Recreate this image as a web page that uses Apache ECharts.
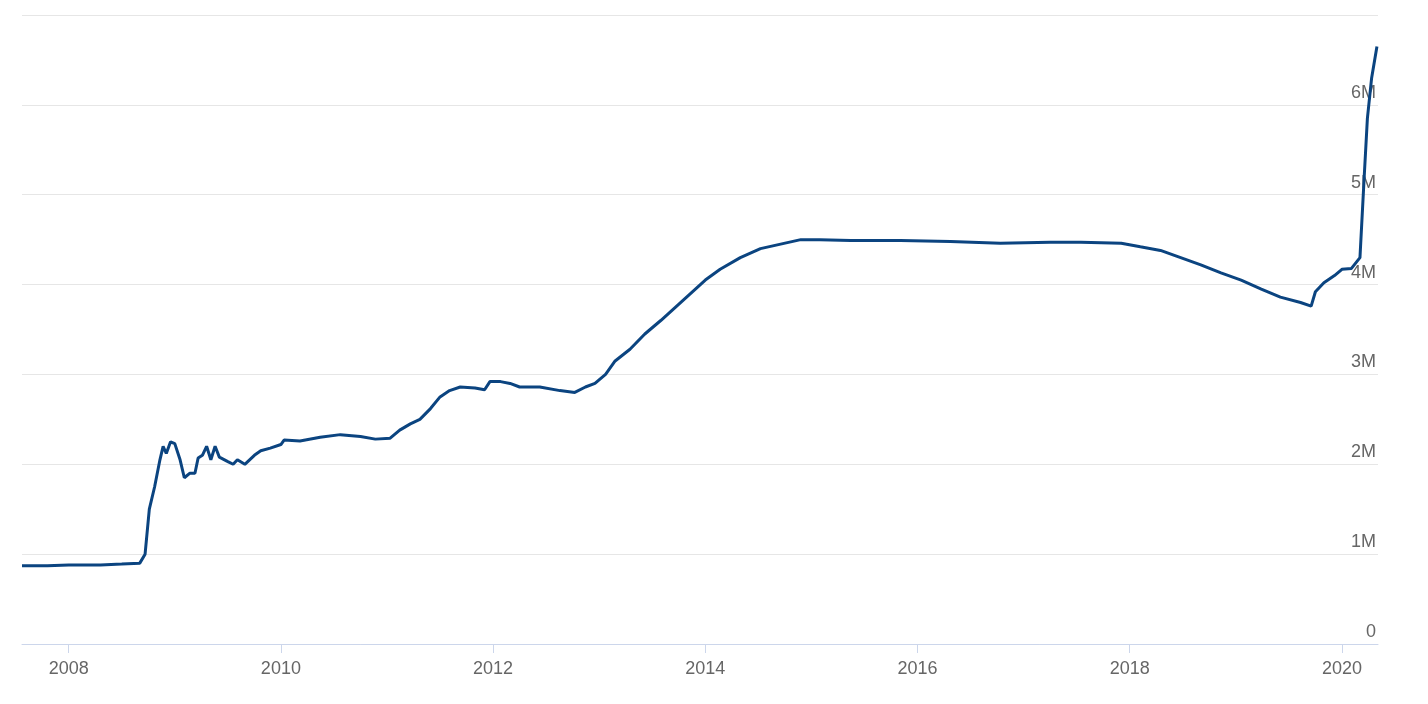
<!DOCTYPE html>
<html><head><meta charset="utf-8">
<script src="https://cdn.jsdelivr.net/npm/echarts@6/dist/echarts.min.js"></script>
<style>html,body{margin:0;padding:0;background:#fff}#c{width:1428px;height:704px}</style>
</head><body><div id="c"></div>
<script>
const years = [2007.56,2007.8,2008.0,2008.3,2008.5,2008.67,2008.72,2008.76,2008.81,2008.86,2008.89,2008.92,2008.96,2009.0,2009.05,2009.09,2009.14,2009.19,2009.22,2009.26,2009.30,2009.34,2009.38,2009.42,2009.5,2009.55,2009.59,2009.66,2009.75,2009.81,2009.9,2010.0,2010.03,2010.18,2010.37,2010.56,2010.75,2010.89,2011.03,2011.12,2011.22,2011.31,2011.41,2011.5,2011.59,2011.69,2011.83,2011.92,2011.97,2012.07,2012.16,2012.25,2012.44,2012.63,2012.77,2012.87,2012.96,2013.06,2013.15,2013.29,2013.43,2013.58,2013.72,2013.86,2014.0,2014.14,2014.33,2014.52,2014.71,2014.9,2015.08,2015.37,2015.84,2016.31,2016.78,2017.25,2017.54,2017.92,2018.1,2018.29,2018.48,2018.67,2018.86,2019.05,2019.24,2019.42,2019.61,2019.71,2019.75,2019.83,2019.93,2020.0,2020.09,2020.17,2020.21,2020.24,2020.28,2020.33];
const values = [0.87,0.87,0.88,0.88,0.89,0.9,1.0,1.5,1.75,2.05,2.2,2.12,2.25,2.23,2.05,1.85,1.9,1.9,2.07,2.1,2.2,2.05,2.2,2.08,2.03,2.0,2.05,2.0,2.1,2.15,2.18,2.22,2.27,2.26,2.3,2.33,2.31,2.28,2.29,2.38,2.45,2.5,2.62,2.75,2.82,2.86,2.85,2.83,2.92,2.92,2.9,2.86,2.86,2.82,2.8,2.86,2.9,3.0,3.15,3.28,3.45,3.6,3.75,3.9,4.05,4.17,4.3,4.4,4.45,4.5,4.5,4.49,4.49,4.48,4.46,4.47,4.47,4.46,4.42,4.38,4.3,4.22,4.13,4.05,3.95,3.86,3.8,3.76,3.92,4.02,4.1,4.17,4.18,4.3,5.2,5.85,6.3,6.65];
const yearTicks = [2008,2010,2012,2014,2016,2018,2020];
const chart = echarts.init(document.getElementById('c'));
chart.setOption({
  animation:false,
  grid:{left:22,right:50,top:15,bottom:60},
  xAxis:{type:'value',min:2007.56,max:2020.34,
    axisLine:{lineStyle:{color:'#ccd6eb'}},
    axisTick:{show:true,length:9,lineStyle:{color:'#ccd6eb'},customValues:yearTicks},
    axisLabel:{customValues:yearTicks,color:'#666',fontSize:18,margin:16,formatter:v=>String(v)},
    splitLine:{show:false}},
  yAxis:{type:'value',position:'right',min:0,max:7e6,interval:1e6,
    axisLine:{show:false},axisTick:{show:false},
    axisLabel:{inside:true,color:'#666',fontSize:18,margin:2,verticalAlign:'bottom',padding:[0,0,3,0],
      formatter:v=>v===0?'0':(v/1e6)+'M',showMaxLabel:false},
    splitLine:{lineStyle:{color:'#e6e6e6'}}},
  series:[{type:'line',showSymbol:false,data:years.map((y,i)=>[y,values[i]*1e6]),
    lineStyle:{color:'#0b4480',width:3},itemStyle:{color:'#0b4480'}}]
});
</script></body></html>
